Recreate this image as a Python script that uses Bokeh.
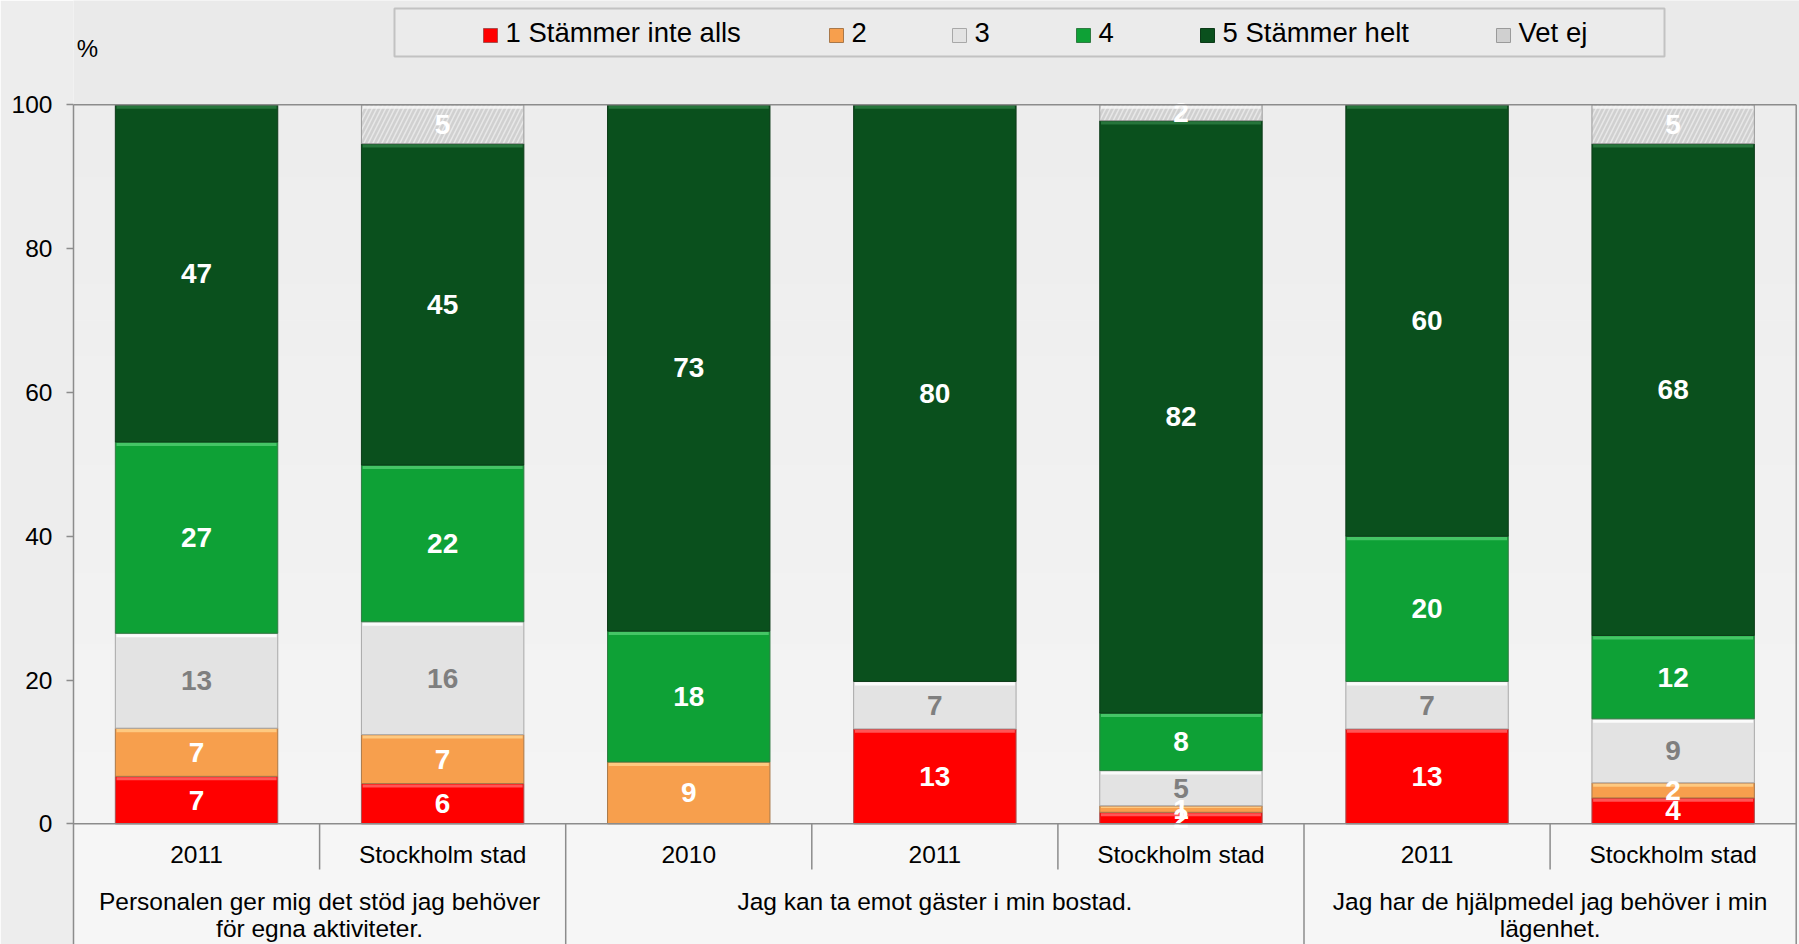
import numpy as np
from bokeh.plotting import figure
from bokeh.models import Range1d, FixedTicker
from bokeh.embed import file_html
from bokeh.resources import INLINE
from bokeh.core.properties import value

# ---------------- data ----------------
group_labels = [
    "Personalen ger mig det stöd jag behöver\nför egna aktiviteter.",
    "Jag kan ta emot gäster i min bostad.",
    "Jag har de hjälpmedel jag behöver i min\nlägenhet.",
]
group_sizes = [2, 3, 2]
categories = ["2011", "Stockholm stad", "2010", "2011", "Stockholm stad", "2011", "Stockholm stad"]
series_names = ["1 Stämmer inte alls", "2", "3", "4", "5 Stämmer helt", "Vet ej"]
s1 = [6.6, 5.6, 0.0, 13.2, 1.6, 13.2, 3.6]
s2 = [6.7, 6.8, 8.6, 0.0, 0.9, 0.0, 2.1]
s3 = [13.2, 15.7, 0.0, 6.6, 4.9, 6.6, 8.9]
s4 = [26.6, 21.8, 18.2, 0.0, 8.0, 20.2, 11.6]
s5 = [46.9, 44.7, 73.2, 80.2, 82.4, 60.0, 68.4]
s_vet = [0.0, 5.4, 0.0, 0.0, 2.2, 0.0, 5.4]
y_ticks = [0, 20, 40, 60, 80, 100]
series_values = [s1, s2, s3, s4, s5, s_vet]

# ---------------- style ----------------
FONT = "Liberation Sans"
fill_colors = ["#FF0000", "#F79F4D", "#E3E3E3", "#0EA136", "#0A501D", "#D0D0D0"]
light_colors = ["#FF6464", "#FFD08A", "#FFFFFF", "#4FCB6E", "#2C7B41", "#F6F6F6"]
edge_colors = ["#A85050", "#A8784A", "#A8A8A8", "#2F7B42", "#0C3A18", "#9A9A9A"]
label_colors = ["#FFFFFF", "#FFFFFF", "#7F7F7F", "#FFFFFF", "#FFFFFF", "#FFFFFF"]
AXIS_GRAY = "#8C8C8C"

W, H = 1799, 944
LEFT = 73
Y0 = 823.3          # px from figure top to value 0
PXU = 7.19          # px per unit on the value axis
y_top = Y0 / PXU
y_bot = -(H - Y0) / PXU
SLOT = 246.1
X_END = (W - LEFT) / SLOT
BAR_W = 0.66


def dx(img_x):
    return (img_x - LEFT) / SLOT


def dy(img_y):
    return (Y0 - img_y) / PXU


p = figure(width=W, height=H, x_range=Range1d(0, X_END), y_range=Range1d(y_bot, y_top),
           x_axis_location=None, output_backend="svg", toolbar_location=None,
           min_border_left=LEFT, min_border_right=0, min_border_top=0, min_border_bottom=0,
           background_fill_color="#F0F0F0", border_fill_color="#EDEDED",
           outline_line_color=None)
p.title = None
p.grid.visible = False

# ---- backgrounds ----
p.quad(left=0, right=X_END, bottom=100, top=y_top, fill_color="#EAEAEA", line_color=None)
nb = 20
band_b = np.linspace(0, 100, nb + 1)
band_cols = ["#%02x%02x%02x" % ((int(round(244 - 7 * i / (nb - 1))),) * 3) for i in range(nb)]
p.quad(left=0, right=X_END, bottom=band_b[:-1], top=band_b[1:], fill_color=band_cols, line_color=None)
p.quad(left=0, right=X_END, bottom=y_bot, top=0, fill_color="#F6F6F6", line_color=None)

# ---- bars ----
n = len(categories)
xs = np.arange(n) + 0.5
bottom = np.zeros(n)
label_x, label_y, label_t, label_c = [], [], [], []
for k, vals in enumerate(series_values):
    v = np.array(vals, dtype=float)
    top = bottom + v
    mask = v > 0
    kw = {}
    if series_names[k] == "Vet ej":
        kw = dict(hatch_pattern="/", hatch_color="#E8E8E8", hatch_scale=9, hatch_weight=1.5)
    p.vbar(x=xs[mask], bottom=bottom[mask], top=top[mask], width=BAR_W,
           fill_color=fill_colors[k], line_color=edge_colors[k], line_width=1, **kw)
    band = np.minimum(0.55, 0.35 * v[mask])
    p.vbar(x=xs[mask], bottom=top[mask] - band, top=top[mask] - 0.12, width=BAR_W * 0.985,
           fill_color=light_colors[k], line_color=None, fill_alpha=0.85)
    for i in np.where(mask)[0]:
        label_x.append(xs[i])
        label_y.append(bottom[i] + v[i] / 2)
        label_t.append(f"{v[i]:.0f}")
        label_c.append(label_colors[k])
    bottom = top

p.text(x=label_x, y=label_y, text=label_t, text_color=label_c,
       text_font=value(FONT), text_font_size=value("28px"), text_font_style="bold",
       text_align="center", text_baseline="middle")

# ---- frame lines ----
edges = list(np.cumsum(group_sizes))
inner = [i for i in range(1, n) if i not in edges]
outer = [e for e in edges if e < n]
p.segment(x0=[0, 0], y0=[100, 0], x1=[n, n], y1=[100, 0], line_color=AXIS_GRAY, line_width=1.5)
p.segment(x0=[n], y0=[y_bot], x1=[n], y1=[100], line_color=AXIS_GRAY, line_width=1.5)
p.segment(x0=outer, y0=[0] * len(outer), x1=outer, y1=[y_bot] * len(outer),
          line_color=AXIS_GRAY, line_width=1.5)
p.segment(x0=inner, y0=[0] * len(inner), x1=inner, y1=[dy(869)] * len(inner),
          line_color=AXIS_GRAY, line_width=1.5)

# ---- category labels ----
p.text(x=xs, y=[dy(854)] * n, text=categories, text_color="#000000",
       text_font=value(FONT), text_font_size=value("24.5px"),
       text_align="center", text_baseline="middle")
gx, gy, gt = [], [], []
start = 0
for g, size in zip(group_labels, group_sizes):
    for j, line in enumerate(g.split("\n")):
        gx.append(start + size / 2)
        gy.append(dy(901 + 27 * j))
        gt.append(line)
    start += size
p.text(x=gx, y=gy, text=gt, text_color="#000000",
       text_font=value(FONT), text_font_size=value("24.5px"),
       text_align="center", text_baseline="middle")

# ---- "%" ----
p.text(x=[dx(87)], y=[dy(48)], text=["%"], text_color="#000000",
       text_font=value(FONT), text_font_size=value("24px"),
       text_align="center", text_baseline="middle")

# ---- legend ----
p.quad(left=dx(394), right=dx(1664), bottom=dy(56), top=dy(8),
       fill_color="#EBEBEB", line_color="#C2C2C2", line_width=2)
leg_sq = [490, 836, 959, 1083, 1207, 1503]
p.scatter(x=[dx(v) for v in leg_sq], y=[dy(35)] * len(leg_sq), marker="square", size=14,
          fill_color=fill_colors, line_color=edge_colors, line_width=1)
p.text(x=[dx(v + 15) for v in leg_sq], y=[dy(32)] * len(leg_sq), text=series_names,
       text_color="#000000", text_font=value(FONT), text_font_size=value("27.5px"),
       text_align="left", text_baseline="middle")

# ---- y axis ----
ax = p.yaxis[0]
ax.ticker = FixedTicker(ticks=y_ticks)
ax.bounds = (y_bot, 100)
ax.axis_line_color = AXIS_GRAY
ax.axis_line_width = 1.5
ax.major_tick_line_color = AXIS_GRAY
ax.major_tick_line_width = 1.5
ax.major_tick_out = 7
ax.major_tick_in = 0
ax.minor_tick_line_color = None
ax.major_label_standoff = 14
ax.major_label_text_font = FONT
ax.major_label_text_font_size = "24.5px"
ax.major_label_text_color = "#000000"

open("out.html", "w").write(file_html(p, INLINE))
